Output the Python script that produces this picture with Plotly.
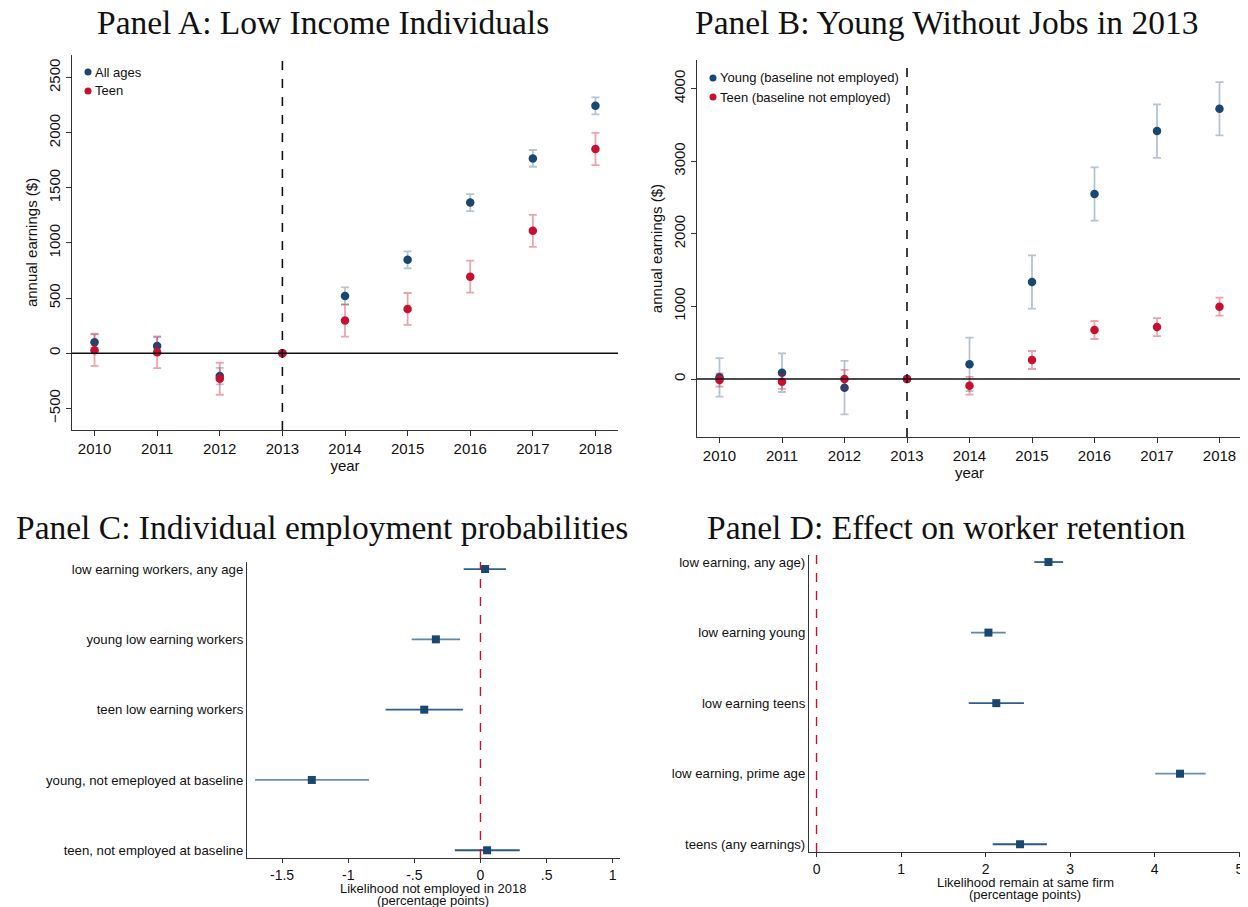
import plotly.graph_objects as go

# --- Data ---
years = [2010, 2011, 2012, 2013, 2014, 2015, 2016, 2017, 2018]

# Panel A: low income individuals
a_all = [100, 66, -208, 0, 519, 847, 1366, 1767, 2244]
a_all_se = [76, 80, 75, 0, 77, 77, 77, 76, 77]
a_teen = [27, 9, -232, 0, 296, 401, 694, 1110, 1852]
a_teen_se = [143, 144, 145, 0, 145, 145, 145, 145, 146]

# Panel B: young without jobs in 2013
b_young = [23, 87, -119, 0, 202, 1336, 2548, 3416, 3724]
b_young_se = [266, 266, 368, 0, 367, 367, 367, 369, 367]
b_teen = [-14, -37, 0, 0, -92, 262, 675, 716, 996]
b_teen_se = [92, 98, 126, 0, 122, 124, 124, 124, 124]

# Panel C: employment probabilities
c_labels = ["low earning workers, any age", "young low earning workers",
            "teen low earning workers", "young, not emeployed at baseline",
            "teen, not employed at baseline"]
c_est = [0.035, -0.337, -0.425, -1.275, 0.05]
c_lo = [-0.127, -0.52, -0.717, -1.704, -0.194]
c_hi = [0.193, -0.154, -0.133, -0.842, 0.297]

# Panel D: worker retention
d_labels = ["low earning, any age)", "low earning young", "low earning teens",
            "low earning, prime age", "teens (any earnings)"]
d_est = [2.743, 2.033, 2.126, 4.299, 2.407]
d_lo = [2.575, 1.827, 1.80, 4.005, 2.084]
d_hi = [2.916, 2.238, 2.453, 4.603, 2.724]

legend_a = ["All ages", "Teen"]
legend_b = ["Young (baseline not employed)", "Teen (baseline not employed)"]

# --- Style ---
# page body adds an 8px margin, so the figure is drawn 8px smaller and
# all positions below are given in screen pixels and shifted back
OFF = 8
W, H = 1248 - OFF, 907 - OFF
NAVY = "#1a476f"
RED = "#c8102e"
NAVY_BAR = "rgba(26,71,111,0.32)"
RED_BAR = "rgba(200,16,46,0.38)"
SANS = "Liberation Sans"
SERIF = "Liberation Serif"
AXCOL = "#333333"


def px(x):
    return (x - OFF) / W


def py(y):
    return 1 - (y - OFF) / H


def xd(x0, x1):
    return [px(x0), px(x1)]


def yd(top, bottom):
    return [py(bottom), py(top)]


fig = go.Figure()

# Panel A
fig.add_trace(go.Scatter(x=years, y=a_all, mode="markers", name=legend_a[0],
                         marker=dict(color=NAVY, size=8.5),
                         error_y=dict(type="data", array=a_all_se, color=NAVY_BAR, thickness=1.8, width=4),
                         xaxis="x", yaxis="y"))
fig.add_trace(go.Scatter(x=years, y=a_teen, mode="markers", name=legend_a[1],
                         marker=dict(color=RED, size=8.5),
                         error_y=dict(type="data", array=a_teen_se, color=RED_BAR, thickness=1.8, width=4),
                         xaxis="x", yaxis="y"))

# Panel B
fig.add_trace(go.Scatter(x=years, y=b_young, mode="markers", name=legend_b[0],
                         marker=dict(color=NAVY, size=8.5),
                         error_y=dict(type="data", array=b_young_se, color=NAVY_BAR, thickness=1.8, width=4),
                         xaxis="x2", yaxis="y2"))
fig.add_trace(go.Scatter(x=years, y=b_teen, mode="markers", name=legend_b[1],
                         marker=dict(color=RED, size=8.5),
                         error_y=dict(type="data", array=b_teen_se, color=RED_BAR, thickness=1.8, width=4),
                         xaxis="x2", yaxis="y2"))

# Panel C / D coefficient plots
line_cols = ["#2f5f8c", "#5f86ad", "#2f5f8c", "#6b8fb2", "#2a5886"]
rows = [1, 2, 3, 4, 5]
for est, lo, hi, xa, ya in [(c_est, c_lo, c_hi, "x3", "y3"), (d_est, d_lo, d_hi, "x4", "y4")]:
    for i in range(5):
        fig.add_trace(go.Scatter(x=[lo[i], hi[i]], y=[rows[i], rows[i]], mode="lines",
                                 line=dict(color=line_cols[i], width=1.8),
                                 xaxis=xa, yaxis=ya, hoverinfo="skip"))
    fig.add_trace(go.Scatter(x=est, y=rows, mode="markers",
                             marker=dict(color=NAVY, size=8, symbol="square"),
                             xaxis=xa, yaxis=ya))

axis_common = dict(showline=True, linecolor=AXCOL, linewidth=1.2, showgrid=False, zeroline=False,
                   ticks="outside", tickcolor=AXCOL, ticklen=5, automargin=False,
                   tickfont=dict(family=SANS, size=15, color="#111"))

year_axis = dict(axis_common, tickvals=years, title=dict(text="year", standoff=0,
                 font=dict(family=SANS, size=15, color="#111")))

shapes = [
    dict(type="line", xref="x", yref="y domain", x0=2013, x1=2013, y0=0, y1=1,
         line=dict(color="#111", width=1.6, dash="dash")),
    dict(type="line", xref="x domain", yref="y", x0=0, x1=1, y0=0, y1=0,
         line=dict(color="#111", width=1.5)),
    dict(type="line", xref="x2", yref="y2 domain", x0=2013, x1=2013, y0=0, y1=1,
         line=dict(color="#111", width=1.6, dash="dash")),
    dict(type="line", xref="x2 domain", yref="y2", x0=0, x1=1, y0=0, y1=0,
         line=dict(color="#111", width=1.5)),
    dict(type="line", xref="x3", yref="y3 domain", x0=0, x1=0, y0=0, y1=1,
         line=dict(color="#c8102e", width=1.4, dash="dash")),
    dict(type="line", xref="x4", yref="y4 domain", x0=0, x1=0, y0=0, y1=1,
         line=dict(color="#c8102e", width=1.4, dash="dash")),
]

annotations = []
titles = [("Panel A: Low Income Individuals", 323, 23),
          ("Panel B: Young Without Jobs in 2013", 947, 23),
          ("Panel C: Individual employment probabilities", 322, 527),
          ("Panel D: Effect on worker retention", 947, 527)]
for txt, cx, cy in titles:
    annotations.append(dict(text=txt, x=px(cx), y=py(cy), xref="paper", yref="paper",
                            xanchor="center", yanchor="middle", showarrow=False,
                            font=dict(family=SERIF, size=33.5, color="#111")))

# x titles of the coefficient panels, one annotation per line for tight spacing
for txt, cx, cy in [("Likelihood not employed in 2018", 433, 888),
                    ("(percentage points)", 433, 900),
                    ("Likelihood remain at same firm", 1025, 882),
                    ("(percentage points)", 1025, 894)]:
    annotations.append(dict(text=txt, x=px(cx), y=py(cy), xref="paper", yref="paper",
                            xanchor="center", yanchor="middle", showarrow=False,
                            font=dict(family=SANS, size=13, color="#111")))

# hand-drawn legends (marker dot + label)
for labels, lx, ly in [(legend_a, 88, 72), (legend_b, 713, 78)]:
    for k, lab in enumerate(labels):
        cy = ly + 19 * k
        col = NAVY if k == 0 else RED
        shapes.append(dict(type="circle", xref="paper", yref="paper",
                           x0=px(lx - 3.5), x1=px(lx + 3.5),
                           y0=py(cy + 3.5), y1=py(cy - 3.5),
                           fillcolor=col, line=dict(width=0)))
        annotations.append(dict(text=lab, x=px(lx + 5), y=py(cy), xref="paper", yref="paper",
                                xanchor="left", yanchor="middle", showarrow=False,
                                font=dict(family=SANS, size=13, color="#111")))

fig.update_layout(
    width=W, height=H, margin=dict(l=0, r=0, t=0, b=0),
    paper_bgcolor="white", plot_bgcolor="white", showlegend=False,
    xaxis=dict(year_axis, domain=xd(72, 618), range=[2009.64, 2018.36], anchor="y"),
    yaxis=dict(axis_common, domain=yd(55, 430), range=[-697, 2705], anchor="x",
               tickvals=[-500, 0, 500, 1000, 1500, 2000, 2500], tickangle=-90,
               title=dict(text="annual earnings ($)", standoff=4,
                          font=dict(family=SANS, size=15, color="#111"))),
    xaxis2=dict(year_axis, domain=xd(697, 1242), range=[2009.64, 2018.36], anchor="y2"),
    yaxis2=dict(axis_common, domain=yd(60, 437), range=[-799, 4395], anchor="x2",
                tickvals=[0, 1000, 2000, 3000, 4000], tickangle=-90,
                title=dict(text="annual earnings ($)", standoff=4,
                           font=dict(family=SANS, size=15, color="#111"))),
    xaxis3=dict(axis_common, domain=xd(247, 620), range=[-1.765, 1.055], anchor="y3",
                tickvals=[-1.5, -1, -0.5, 0, 0.5, 1], ticktext=["-1.5", "-1", "-.5", "0", ".5", "1"],
                ticklen=4, tickfont=dict(family=SANS, size=14, color="#111")),
    yaxis3=dict(axis_common, domain=yd(562, 858), range=[5.11, 0.9], anchor="x3",
                tickvals=rows, ticktext=c_labels, ticks="",
                tickfont=dict(family=SANS, size=13.2, color="#111")),
    xaxis4=dict(axis_common, domain=xd(809, 1241), range=[-0.089, 5.02], anchor="y4",
                tickvals=[0, 1, 2, 3, 4, 5],
                ticklen=4, tickfont=dict(family=SANS, size=14, color="#111")),
    yaxis4=dict(axis_common, domain=yd(555, 852), range=[5.11, 0.9], anchor="x4",
                tickvals=rows, ticktext=d_labels, ticks="",
                tickfont=dict(family=SANS, size=13.2, color="#111")),
    shapes=shapes,
    annotations=annotations,
)

fig.write_html("out.html")
